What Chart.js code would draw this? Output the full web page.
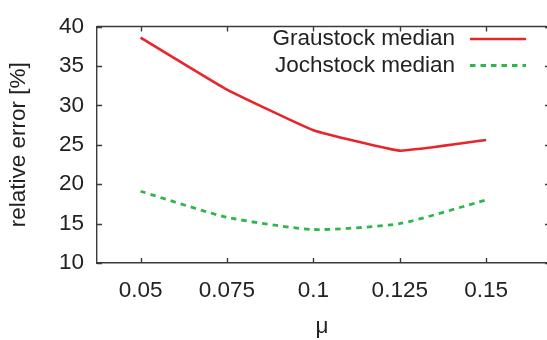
<!DOCTYPE html>
<html>
<head>
<meta charset="utf-8">
<script src="https://cdn.jsdelivr.net/npm/chart.js@4/dist/chart.umd.min.js"></script>
<style>
  html, body { margin: 0; padding: 0; background: #fff; }
  #wrap { width: 547px; height: 340px; position: relative; }
</style>
</head>
<body>
<div id="wrap"><canvas id="chart"></canvas></div>
<script>
// valores
const muValues = [0.05, 0.075, 0.1, 0.125, 0.15];
const graustockMedian = [38.6, 32.0, 26.85, 24.25, 25.6];
const jochstockMedian = [19.1, 15.8, 14.25, 15.0, 18.0];
const xTickValues = [0.05, 0.075, 0.1, 0.125, 0.15];
const xTickLabels = ['0.05', '0.075', '0.1', '0.125', '0.15'];
const seriesNames = ['Graustock median', 'Jochstock median'];

const axisColor = '#3a3a3a';
const textColor = '#222';
const fontFamily = '"Liberation Sans", Arial, sans-serif';
const fontSize = 22.5;

// ticks para dentro (estilo gnuplot) + legenda à direita
const frameTicks = {
  id: 'frameTicks',
  afterDatasetsDraw(chart) {
    const ctx = chart.ctx;
    const area = chart.chartArea;
    const xs = chart.scales.x;
    const ys = chart.scales.y;
    ctx.save();
    ctx.strokeStyle = axisColor;
    ctx.lineWidth = 1.4;
    ctx.beginPath();
    ctx.moveTo(area.left, area.top);
    ctx.lineTo(area.right, area.top);
    xTickValues.forEach(v => {
      const px = Math.round(xs.getPixelForValue(v)) + 0.5;
      ctx.moveTo(px, area.bottom);
      ctx.lineTo(px, area.bottom - 5);
      ctx.moveTo(px, area.top);
      ctx.lineTo(px, area.top + 5);
    });
    ys.ticks.forEach(t => {
      const py = Math.round(ys.getPixelForValue(t.value)) + 0.5;
      ctx.moveTo(area.left, py);
      ctx.lineTo(area.left + 5, py);
      ctx.moveTo(area.right, py);
      ctx.lineTo(area.right - 2, py);
    });
    ctx.stroke();

    // legenda
    ctx.font = fontSize + 'px ' + fontFamily;
    ctx.fillStyle = textColor;
    ctx.textAlign = 'right';
    ctx.textBaseline = 'middle';
    const rows = [39, 65.5];
    chart.data.datasets.forEach((ds, i) => {
      ctx.fillText(ds.label, 455, rows[i]);
      ctx.beginPath();
      ctx.strokeStyle = ds.borderColor;
      ctx.lineWidth = ds.borderWidth;
      ctx.setLineDash(ds.borderDash || []);
      ctx.moveTo(470, rows[i]);
      ctx.lineTo(526, rows[i]);
      ctx.stroke();
    });
    ctx.restore();
  }
};

const ctx = document.getElementById('chart').getContext('2d');
new Chart(ctx, {
  type: 'line',
  data: {
    datasets: [
      {
        label: seriesNames[0],
        data: muValues.map((m, i) => ({ x: m, y: graustockMedian[i] })),
        borderColor: '#e8252b',
        borderWidth: 2.6,
        pointRadius: 0,
        tension: 0.1,
        fill: false
      },
      {
        label: seriesNames[1],
        data: muValues.map((m, i) => ({ x: m, y: jochstockMedian[i] })),
        borderColor: '#2fb64b',
        borderWidth: 2.8,
        borderDash: [5.5, 5],
        pointRadius: 0,
        tension: 0.2,
        fill: false
      }
    ]
  },
  options: {
    responsive: true,
    maintainAspectRatio: false,
    animation: false,
    layout: { padding: { top: 21, right: 0, left: 0, bottom: 0 } },
    plugins: {
      legend: { display: false },
      tooltip: { enabled: false }
    },
    scales: {
      x: {
        type: 'linear',
        min: 0.0374,
        max: 0.1676,
        afterBuildTicks: scale => { scale.ticks = xTickValues.map(v => ({ value: v })); },
        afterFit: scale => { scale.height = 77; },
        ticks: {
          autoSkip: false,
          maxRotation: 0,
          padding: 14,
          color: textColor,
          font: { family: fontFamily, size: fontSize },
          callback: (value, index) => xTickLabels[index]
        },
        grid: { display: false, drawTicks: false },
        border: { display: true, color: axisColor, width: 1.4 },
        title: {
          display: true,
          text: 'μ',
          color: textColor,
          font: { family: fontFamily, size: fontSize },
          padding: { top: 0, bottom: 0 }
        }
      },
      y: {
        min: 10,
        max: 40,
        afterFit: scale => { scale.width = 97; },
        ticks: {
          stepSize: 5,
          padding: 13,
          color: textColor,
          font: { family: fontFamily, size: fontSize }
        },
        grid: { display: false, drawTicks: false },
        border: { display: true, color: axisColor, width: 1.4 },
        title: {
          display: true,
          text: 'relative error [%]',
          color: textColor,
          font: { family: fontFamily, size: fontSize },
          padding: { top: 5, bottom: 0 }
        }
      }
    }
  },
  plugins: [frameTicks]
});
</script>
</body>
</html>
